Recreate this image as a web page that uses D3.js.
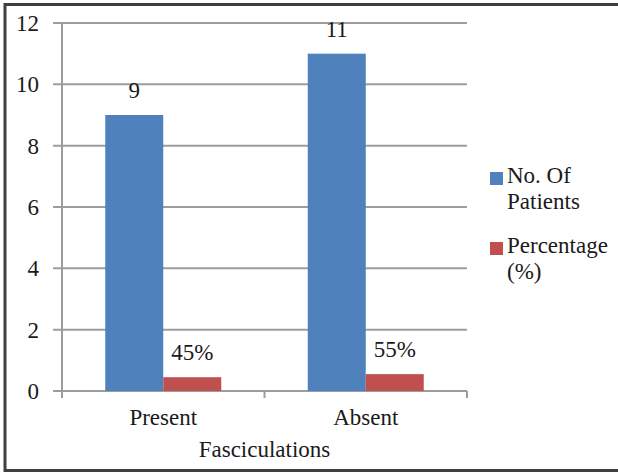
<!DOCTYPE html>
<html>
<head>
<meta charset="utf-8">
<script src="https://cdn.jsdelivr.net/npm/d3@7"></script>
<style>
  html, body { margin: 0; padding: 0; background: #fff; }
  svg { display: block; }
</style>
</head>
<body>
<svg id="chart" width="618" height="472"></svg>
<script>
// Fasciculations: patient counts and percentages
const categories = ["Present", "Absent"];
const seriesNames = ["No. Of Patients", "Percentage (%)"];
const patients = [9, 11];
const percentages = [45, 55];            // shown as labels, plotted on the 0–12 scale as fractions
const yTicks = [0, 2, 4, 6, 8, 10, 12];
const colors = ["#4F81BD", "#C0504D"];

const svg = d3.select("#chart");
const W = 618, H = 472;
const textColor = "#1a1a1a";
const fontSize = 23;

// outer frame (open on the right)
svg.append("path")
  .attr("d", `M${W},4.5 H5 V470.5 H${W}`)
  .attr("fill", "none").attr("stroke", "#3f3f3f").attr("stroke-width", 3);

const plot = { left: 62, right: 467, top: 23, bottom: 391 };

const x = d3.scaleBand().domain(categories).range([plot.left, plot.right]);
const groupW = 116;
const xInner = d3.scaleBand().domain(seriesNames)
  .range([(x.bandwidth() - groupW) / 2, (x.bandwidth() + groupW) / 2]);
const y = d3.scaleLinear().domain([0, 12]).range([plot.bottom, plot.top]);

// horizontal gridlines with outward tick stubs
svg.append("g").selectAll("line").data(yTicks).join("line")
  .attr("x1", plot.left - 9).attr("x2", plot.right)
  .attr("y1", d => y(d)).attr("y2", d => y(d))
  .attr("stroke", "#9d9d9d").attr("stroke-width", 2);

// y-axis line
svg.append("line")
  .attr("x1", plot.left).attr("x2", plot.left)
  .attr("y1", plot.top).attr("y2", plot.bottom + 7)
  .attr("stroke", "#9d9d9d").attr("stroke-width", 2);

// x-axis category separators
svg.append("g").selectAll("line").data([plot.left + x.bandwidth(), plot.right]).join("line")
  .attr("x1", d => d).attr("x2", d => d)
  .attr("y1", plot.bottom).attr("y2", plot.bottom + 7)
  .attr("stroke", "#9d9d9d").attr("stroke-width", 2);

function styleText(sel) {
  return sel.style("font-family", '"Liberation Serif"')
    .attr("font-size", fontSize).attr("fill", textColor);
}

// y tick labels
svg.append("g").selectAll("text").data(yTicks).join("text")
  .attr("x", 39).attr("y", d => y(d) + 8)
  .attr("text-anchor", "end")
  .call(styleText)
  .text(d => d);

// bars
const rows = categories.map((c, i) => ({
  cat: c,
  vals: [
    { s: seriesNames[0], v: patients[i], label: String(patients[i]) },
    { s: seriesNames[1], v: percentages[i] / 100, label: percentages[i] + "%" }
  ]
}));

const groups = svg.append("g").selectAll("g").data(rows).join("g")
  .attr("transform", d => `translate(${x(d.cat)},0)`);

groups.selectAll("rect").data(d => d.vals).join("rect")
  .attr("x", d => xInner(d.s))
  .attr("width", xInner.bandwidth())
  .attr("y", d => y(d.v))
  .attr("height", d => y(0) - y(d.v))
  .attr("fill", (d, i) => colors[i]);

groups.selectAll("text").data(d => d.vals).join("text")
  .attr("x", d => xInner(d.s) + xInner.bandwidth() / 2)
  .attr("y", d => y(d.v) - 17)
  .attr("text-anchor", "middle")
  .call(styleText)
  .text(d => d.label);

// category labels
svg.append("g").selectAll("text").data(categories).join("text")
  .attr("x", d => x(d) + x.bandwidth() / 2)
  .attr("y", 425)
  .attr("text-anchor", "middle")
  .call(styleText)
  .text(d => d);

// axis title
svg.append("text")
  .attr("x", (plot.left + plot.right) / 2).attr("y", 457)
  .attr("text-anchor", "middle")
  .call(styleText)
  .text("Fasciculations");

// legend
const legendLines = [["No. Of", "Patients"], ["Percentage", "(%)"]];
const legend = svg.append("g").selectAll("g").data(legendLines).join("g")
  .attr("transform", (d, i) => `translate(490,${172 + i * 70})`);
legend.append("rect")
  .attr("width", 13).attr("height", 13)
  .attr("fill", (d, i) => colors[i]);
legend.append("text")
  .attr("x", 17).attr("y", 11)
  .call(styleText)
  .selectAll("tspan").data(d => d).join("tspan")
  .attr("x", 17).attr("dy", (d, i) => i === 0 ? 0 : 26)
  .text(d => d);
</script>
</body>
</html>
